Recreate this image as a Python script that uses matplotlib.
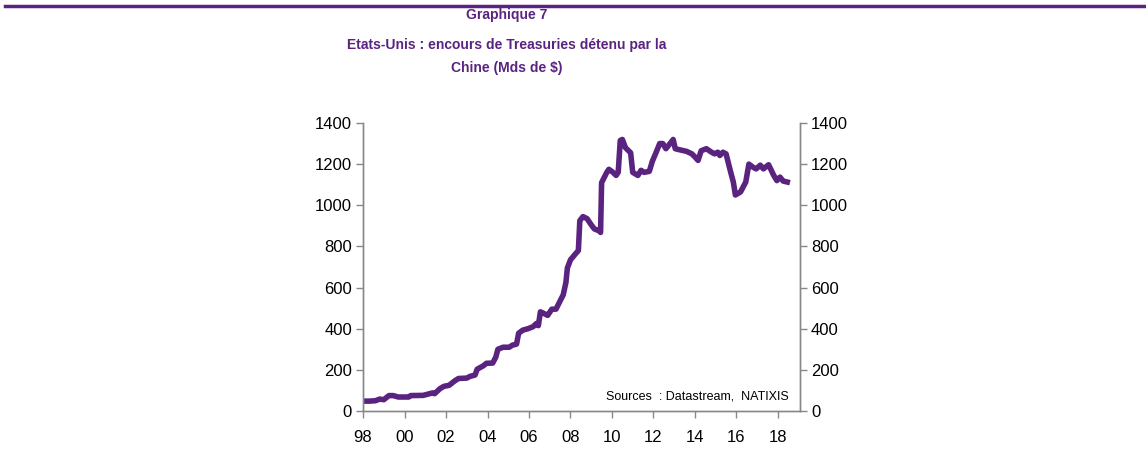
import matplotlib as mpl
mpl.use('Agg')
import matplotlib.pyplot as plt
from matplotlib.lines import Line2D
from matplotlib import font_manager

# donnees (annee decimale, Mds de $)
years = [1998.0, 1998.3, 1998.6, 1998.8, 1999.0, 1999.25, 1999.45, 1999.7, 2000.2, 2000.3,
         2000.9, 2001.35, 2001.45, 2001.7, 2001.9, 2002.15, 2002.4, 2002.6, 2003.0, 2003.15,
         2003.4, 2003.5, 2003.8, 2003.95, 2004.25, 2004.4, 2004.5, 2004.75, 2005.05, 2005.2,
         2005.4, 2005.5, 2005.7, 2005.95, 2006.2, 2006.35, 2006.45, 2006.55, 2006.7, 2006.9,
         2007.1, 2007.3, 2007.45, 2007.65, 2007.78, 2007.85, 2008.0, 2008.25, 2008.38, 2008.45,
         2008.6, 2008.8, 2009.0, 2009.15, 2009.4, 2009.45, 2009.5, 2009.75, 2009.85, 2010.05,
         2010.2, 2010.3, 2010.4, 2010.5, 2010.65, 2010.9, 2011.0, 2011.25, 2011.4, 2011.55,
         2011.8, 2011.95, 2012.1, 2012.3, 2012.45, 2012.6, 2012.8, 2012.95, 2013.05, 2013.25,
         2013.6, 2013.85, 2014.0, 2014.15, 2014.3, 2014.55, 2014.8, 2014.95, 2015.1, 2015.2,
         2015.35, 2015.5, 2015.7, 2015.85, 2015.95, 2016.2, 2016.45, 2016.6, 2016.8, 2016.95,
         2017.15, 2017.3, 2017.55, 2017.8, 2017.95, 2018.1, 2018.25, 2018.45]
values = [48, 48, 50, 58, 55, 75, 75, 68, 68, 75,
          76, 88, 84, 108, 120, 125, 145, 158, 160, 168,
          175, 203, 220, 232, 233, 262, 300, 310, 310, 320,
          325, 378, 393, 400, 410, 425, 415, 482, 475, 465,
          495, 495, 525, 565, 625, 695, 735, 765, 780, 925,
          945, 935, 905, 885, 875, 868, 1110, 1160, 1175, 1160,
          1145, 1160, 1315, 1320, 1280, 1255, 1160, 1145, 1170, 1160,
          1165, 1215, 1250, 1300, 1300, 1275, 1300, 1320, 1275, 1270,
          1262, 1250, 1235, 1218, 1265, 1275, 1258, 1250, 1258, 1242,
          1258, 1250, 1170, 1113, 1050, 1065, 1113, 1200, 1185, 1177,
          1195, 1177, 1197, 1145, 1120, 1137, 1118, 1113]

tick_years = [1998, 2000, 2002, 2004, 2006, 2008, 2010, 2012, 2014, 2016, 2018]
tick_labels = ['98', '00', '02', '04', '06', '08', '10', '12', '14', '16', '18']
y_ticks = [0, 200, 400, 600, 800, 1000, 1200, 1400]

violet = '#5b2380'
gris = '#888888'

plt.rcParams['font.family'] = ['Liberation Sans', 'DejaVu Sans']

# police etroite pour le titre si disponible
noms = {f.name for f in font_manager.fontManager.ttflist}
if 'Liberation Sans Narrow' in noms:
    titre_font = dict(family='Liberation Sans Narrow', fontsize=12)
else:
    titre_font = dict(family='Liberation Sans', fontsize=10)

fig = plt.figure(figsize=(11.46, 4.53), dpi=100)
ax = fig.add_axes([0.3168, 0.0927, 0.698 - 0.3168, 0.7285 - 0.0927])

ax.plot(years, values, color=violet, linewidth=4, solid_joinstyle='round')
ax.set_xlim(1998, 2019.06)
ax.set_ylim(0, 1400)
ax.set_xticks(tick_years)
ax.set_xticklabels(tick_labels)
ax.set_yticks(y_ticks)

ax2 = ax.twinx()
ax2.set_ylim(0, 1400)
ax2.set_yticks(y_ticks)

for a in (ax, ax2):
    a.spines['top'].set_visible(False)
    for s in ('left', 'right', 'bottom'):
        a.spines[s].set_color(gris)
        a.spines[s].set_linewidth(1.0)
    a.tick_params(axis='both', colors=gris, labelcolor='black', labelsize=12,
                  length=5, width=1, direction='out', pad=3)
ax.tick_params(axis='x', pad=9)

ax.text(0.975, 0.03, 'Sources  : Datastream,  NATIXIS', transform=ax.transAxes,
        ha='right', va='bottom', fontsize=9)

# titre
fig.text(0.442, 0.966, 'Graphique 7', ha='center', va='center', color=violet,
         fontweight='bold', **titre_font)
fig.text(0.442, 0.90, 'Etats-Unis : encours de Treasuries détenu par la', ha='center',
         va='center', color=violet, fontweight='bold', **titre_font)
fig.text(0.442, 0.85, 'Chine (Mds de $)', ha='center', va='center', color=violet,
         fontweight='bold', **titre_font)

fig.add_artist(Line2D([0.004, 1.0], [0.987, 0.987], transform=fig.transFigure,
                      color=violet, linewidth=2.5))

fig.savefig('out.png', dpi=100)
